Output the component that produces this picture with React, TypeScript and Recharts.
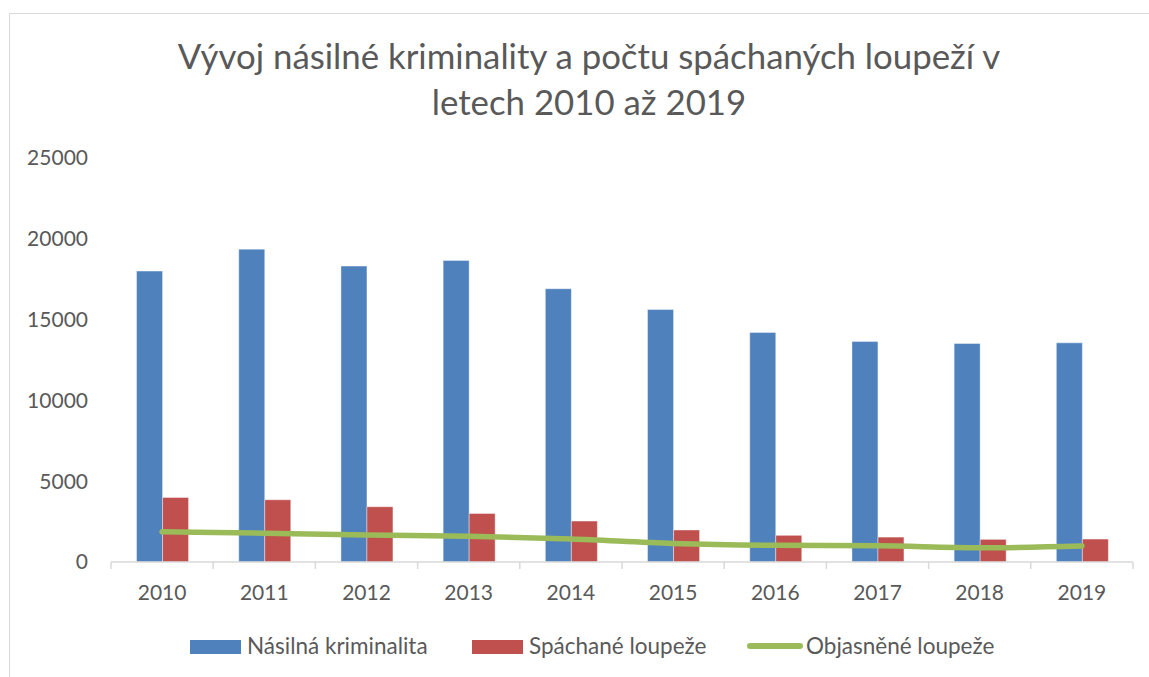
import React from 'react';
import { ComposedChart, Bar, Line, XAxis, YAxis } from 'recharts';

const YEARS = ['2010', '2011', '2012', '2013', '2014', '2015', '2016', '2017', '2018', '2019'];
const NASILNA = [18000, 19360, 18310, 18660, 16910, 15620, 14200, 13640, 13520, 13560];
const SPACHANE = [3990, 3850, 3420, 3000, 2530, 1980, 1650, 1540, 1400, 1420];
const OBJASNENE = [1870, 1780, 1670, 1600, 1420, 1150, 1030, 1000, 880, 990];
const Y_TICKS = [0, 5000, 10000, 15000, 20000, 25000];

const SERIES_NAMES = ['Násilná kriminalita', 'Spáchané loupeže', 'Objasněné loupeže'];
const COLORS = ['#4F81BD', '#C0504D', '#9BBB59'];

const FONT = 'Lato, "Open Sans", sans-serif';
const TEXT = '#595959';
const AXIS = '#d9d9d9';

const W = 1149;
const H = 677;
const MARGIN = { top: 158, right: 16, bottom: 85, left: 0 };
const Y_AXIS_W = 111;
const BAND = (W - MARGIN.right - MARGIN.left - Y_AXIS_W) / YEARS.length;

const data = YEARS.map((year, i) => ({
  year,
  nasilna: NASILNA[i],
  spachane: SPACHANE[i],
  objasnene: OBJASNENE[i],
}));

// Excel puts tick marks between categories, not under them
const XTick = (props: any) => {
  const { x, y, payload, index } = props;
  const axisY = y - 23;
  return (
    <g>
      <line x1={x - BAND / 2} x2={x - BAND / 2} y1={axisY} y2={axisY + 7} stroke={AXIS} strokeWidth={1.5} />
      {index === YEARS.length - 1 && (
        <line x1={x + BAND / 2} x2={x + BAND / 2} y1={axisY} y2={axisY + 7} stroke={AXIS} strokeWidth={1.5} />
      )}
      <text x={x} y={y} dy="0.71em" textAnchor="middle" fill={TEXT} fontSize={21} fontFamily={FONT}>
        {payload.value}
      </text>
    </g>
  );
};

const LegendItem = ({ left, textLeft, color, label, line }: any) => (
  <>
    {line ? (
      <div style={{ position: 'absolute', left, top: 643, width: 56, height: 6, borderRadius: 3, background: color }} />
    ) : (
      <div style={{ position: 'absolute', left, top: 640, width: 51, height: 14, background: color }} />
    )}
    <div style={{ position: 'absolute', left: textLeft, top: 631, lineHeight: '30px', fontSize: 22.5, color: TEXT, whiteSpace: 'nowrap' }}>
      {label}
    </div>
  </>
);

export default function App() {
  return (
    <div style={{ position: 'absolute', left: 0, top: 0, width: W, height: H, overflow: 'hidden', background: '#fff', fontFamily: FONT }}>
      {/* chart area border */}
      <div style={{ position: 'absolute', left: 9, top: 13, width: W + 20, height: H + 20, border: `1.5px solid ${AXIS}` }} />

      <div style={{ position: 'absolute', left: 0, top: 33, width: 1178, textAlign: 'center', fontSize: 34.8, lineHeight: '46px', color: TEXT }}>
        Vývoj násilné kriminality a počtu spáchaných loupeží v
        <br />
        letech 2010 až 2019
      </div>

      <div style={{ position: 'absolute', left: 0, top: 0 }}>
        <ComposedChart width={W} height={H} data={data} margin={MARGIN} barCategoryGap="25%" barGap={0}>
          <XAxis
            dataKey="year"
            height={30}
            axisLine={{ stroke: AXIS, strokeWidth: 1.5 }}
            tickLine={false}
            tickSize={7}
            tickMargin={16}
            tick={<XTick />}
            interval={0}
          />
          <YAxis
            width={Y_AXIS_W}
            domain={[0, 25000]}
            ticks={Y_TICKS}
            axisLine={false}
            tickLine={false}
            tickSize={0}
            tickMargin={23}
            tick={{ fill: TEXT, fontSize: 21, fontFamily: FONT }}
          />
          <Bar dataKey="nasilna" name={SERIES_NAMES[0]} fill={COLORS[0]} stroke="#ffffff" strokeOpacity={0.4} isAnimationActive={false} />
          <Bar dataKey="spachane" name={SERIES_NAMES[1]} fill={COLORS[1]} stroke="#ffffff" strokeOpacity={0.4} isAnimationActive={false} />
          <Line
            dataKey="objasnene"
            name={SERIES_NAMES[2]}
            type="monotone"
            stroke={COLORS[2]}
            strokeWidth={5.5}
            strokeLinecap="round"
            dot={false}
            activeDot={false}
            isAnimationActive={false}
          />
        </ComposedChart>
      </div>

      <LegendItem left={190} textLeft={247} color={COLORS[0]} label={SERIES_NAMES[0]} />
      <LegendItem left={472} textLeft={529} color={COLORS[1]} label={SERIES_NAMES[1]} />
      <LegendItem left={747} textLeft={806} color={COLORS[2]} label={SERIES_NAMES[2]} line />
    </div>
  );
}
